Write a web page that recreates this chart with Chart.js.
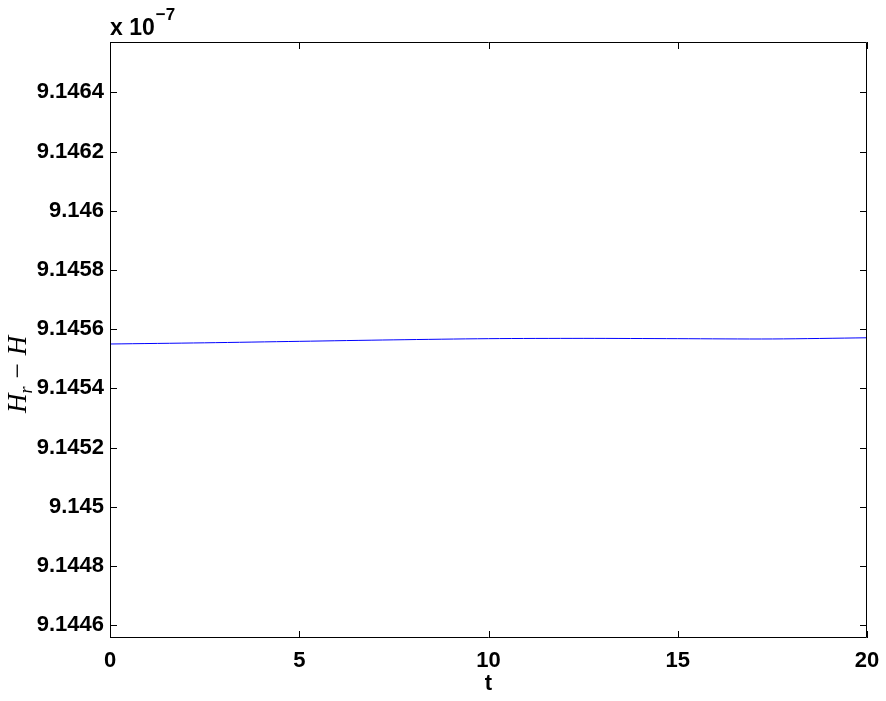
<!DOCTYPE html>
<html>
<head>
<meta charset="utf-8">
<script src="https://cdn.jsdelivr.net/npm/chart.js@4"></script>
<style>
  html, body { margin: 0; padding: 0; background: #fff; }
  #wrap { width: 886px; height: 701px; }
</style>
</head>
<body>
<div id="wrap"><canvas id="myChart" width="886" height="701"></canvas></div>
<script>
// values are in units of 1e-7 (the axis shows "x 10^-7")
const t_values = [0, 2.5, 5, 7.5, 10, 12.5, 15, 17.5, 20];
const h_diff = [9.14555, 9.145554, 9.145559, 9.145564, 9.145568, 9.145569, 9.145568, 9.145567, 9.145571];
const y_ticks = [9.1446, 9.1448, 9.145, 9.1452, 9.1454, 9.1456, 9.1458, 9.146, 9.1462, 9.1464];
const x_ticks = [0, 5, 10, 15, 20];

const tickFont = { family: 'Liberation Sans, Arial, sans-serif', size: 22, weight: 'bold' };

// matlab style box with inward tick marks, exponent and y label
const boxPlugin = {
    id: 'box',
    afterDraw(chart) {
        const ctx = chart.ctx;
        const a = chart.chartArea;
        const xs = chart.scales.x, ys = chart.scales.y;
        const len = 7;
        ctx.save();
        ctx.strokeStyle = '#000';
        ctx.lineWidth = 1;
        ctx.beginPath();
        ctx.rect(a.left + 0.5, a.top + 0.5, a.right - a.left - 1, a.bottom - a.top - 1);
        y_ticks.forEach(v => {
            const y = Math.round(ys.getPixelForValue(v)) + 0.5;
            ctx.moveTo(a.left, y); ctx.lineTo(a.left + len, y);
            ctx.moveTo(a.right, y); ctx.lineTo(a.right - len, y);
        });
        x_ticks.forEach(v => {
            const x = Math.round(xs.getPixelForValue(v)) + 0.5;
            ctx.moveTo(x, a.bottom); ctx.lineTo(x, a.bottom - len);
            ctx.moveTo(x, a.top); ctx.lineTo(x, a.top + len);
        });
        ctx.stroke();

        // exponent label
        ctx.fillStyle = '#000';
        ctx.textBaseline = 'alphabetic';
        ctx.textAlign = 'left';
        ctx.font = 'bold 23px Liberation Sans, Arial, sans-serif';
        ctx.fillText('x 10', a.left, 35);
        const w = ctx.measureText('x 10').width;
        ctx.font = 'bold 17px Liberation Sans, Arial, sans-serif';
        ctx.fillText('\u22127', a.left + w + 1, 20);

        // y axis title: H_r - H
        ctx.translate(26, 363);
        ctx.rotate(-Math.PI / 2);
        ctx.textAlign = 'left';
        ctx.font = 'italic 27px Liberation Serif, DejaVu Serif, serif';
        let x0 = -50;
        ctx.fillText('H', x0, 0);
        x0 += ctx.measureText('H').width;
        ctx.font = 'italic 18px Liberation Serif, DejaVu Serif, serif';
        ctx.fillText('r', x0, 6);
        x0 += ctx.measureText('r').width + 8;
        ctx.font = '27px Liberation Serif, DejaVu Serif, serif';
        ctx.fillText('\u2212', x0, 0);
        x0 += ctx.measureText('\u2212').width + 8;
        ctx.font = 'italic 27px Liberation Serif, DejaVu Serif, serif';
        ctx.fillText('H', x0, 0);
        ctx.restore();
    }
};

const ctx = document.getElementById('myChart');
new Chart(ctx, {
    type: 'line',
    data: {
        labels: t_values,
        datasets: [{
            data: t_values.map((t, i) => ({ x: t, y: h_diff[i] })),
            borderColor: '#0000ff',
            borderWidth: 1,
            pointRadius: 0,
            tension: 0.3,
            fill: false
        }]
    },
    options: {
        responsive: false,
        animation: false,
        layout: { padding: { left: 0, top: 42, right: 19, bottom: 0 } },
        scales: {
            x: {
                type: 'linear',
                min: 0,
                max: 20,
                grid: { display: false, drawTicks: false },
                border: { display: false },
                afterBuildTicks: (scale) => { scale.ticks = x_ticks.map(v => ({ value: v })); },
                afterFit: (scale) => { scale.height = 63; scale.paddingRight = 0; scale.paddingLeft = 0; },
                ticks: { color: '#000', font: tickFont, padding: 10, maxRotation: 0 },
                title: { display: true, text: 't', color: '#000', font: tickFont, padding: { top: 1 } }
            },
            y: {
                type: 'linear',
                min: 9.144557,
                max: 9.14657,
                grid: { display: false, drawTicks: false },
                border: { display: false },
                afterBuildTicks: (scale) => { scale.ticks = y_ticks.map(v => ({ value: v })); },
                afterFit: (scale) => { scale.width = 110; scale.paddingTop = 0; scale.paddingBottom = 0; },
                ticks: {
                    color: '#000',
                    font: tickFont,
                    padding: 6,
                    callback: (value) => String(parseFloat(value.toFixed(4)))
                }
            }
        },
        plugins: {
            legend: { display: false },
            tooltip: { enabled: false }
        }
    },
    plugins: [boxPlugin]
});
</script>
</body>
</html>
